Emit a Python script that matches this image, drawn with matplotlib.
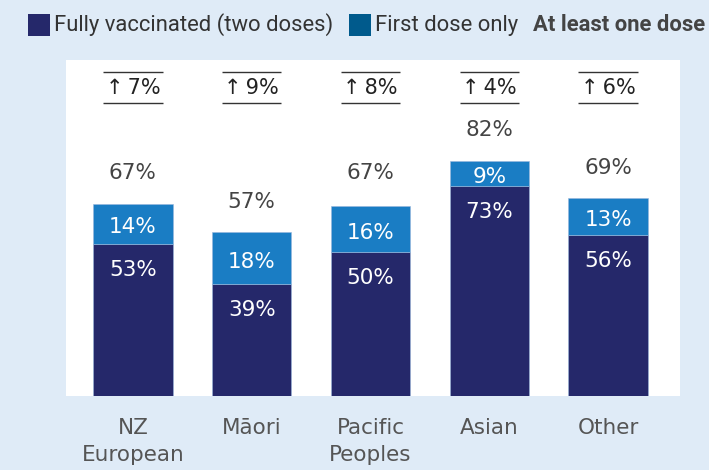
import matplotlib
matplotlib.use("Agg")
import matplotlib.pyplot as plt
from matplotlib.patches import Rectangle

categories = ["NZ\nEuropean", "Māori", "Pacific\nPeoples", "Asian", "Other"]
fully = [53, 39, 50, 73, 56]
first_only = [14, 18, 16, 9, 13]
at_least_one = [67, 57, 67, 82, 69]
increase = ["7%", "9%", "8%", "4%", "6%"]

BG = "#dfebf7"
NAVY = "#25286a"
BLUE = "#1a7dc4"
LEG_BLUE = "#005a8c"

fig = plt.figure(figsize=(7.09, 4.70), dpi=100)
fig.patch.set_facecolor(BG)
ax = fig.add_axes([66/709, 1-396/470, (680-66)/709, (396-60)/470])
ax.set_facecolor("white")

x = list(range(len(categories)))
w = 0.67
ax.bar(x, fully, width=w, color=NAVY, edgecolor="#9ab7dc", linewidth=0.4)
ax.bar(x, first_only, bottom=fully, width=w, color=BLUE, edgecolor="#9ab7dc", linewidth=0.4)

lab_font = dict(family="DejaVu Sans", fontsize=15.5)
for i in x:
    ax.text(i, fully[i] - 9, f"{fully[i]}%", ha="center", va="center", color="white", **lab_font)
    ax.text(i, fully[i] + first_only[i] / 2 - 1.3, f"{first_only[i]}%", ha="center", va="center",
            color="white", **lab_font)
    ax.text(i, at_least_one[i] + 10.5, f"{at_least_one[i]}%", ha="center", va="center",
            color="#444444", **lab_font)
    ax.text(i, 107.2, "↑" + "\u2009" + increase[i], ha="center", va="center", color="#222222",
            family="DejaVu Sans", fontsize=15)
    ax.plot([i - 0.25, i + 0.25], [112.7, 112.7], color="#333333", lw=1, solid_capstyle="butt")
    ax.plot([i - 0.25, i + 0.25], [101.9, 101.9], color="#333333", lw=1, solid_capstyle="butt")

ax.set_xlim(-0.563, 4.605)
ax.set_ylim(0, 117)
ax.set_xticks(x)
ax.set_xticklabels(categories, family="DejaVu Sans", fontsize=15.5, color="#555555",
                   linespacing=1.45)
ax.tick_params(axis="x", length=0, pad=16)
ax.set_yticks([])
for s in ax.spines.values():
    s.set_visible(False)

# legend
leg_font = ["Roboto", "DejaVu Sans"]
fig.patches.append(Rectangle((28/709, 1-36/470), 22/709, 22/470, transform=fig.transFigure,
                             facecolor=NAVY, edgecolor="none"))
fig.text(54/709, 1-25/470, "Fully vaccinated (two doses)", ha="left", va="center",
         family=leg_font, fontsize=15.8, color="#333333")
fig.patches.append(Rectangle((349/709, 1-36/470), 22/709, 22/470, transform=fig.transFigure,
                             facecolor=LEG_BLUE, edgecolor="none"))
fig.text(375/709, 1-25/470, "First dose only", ha="left", va="center",
         family=leg_font, fontsize=15.8, color="#333333")
fig.text(533/709, 1-25/470, "At least one dose", ha="left", va="center",
         family=leg_font, fontsize=15.8, fontweight="bold", color="#444444")

fig.savefig("out.png", dpi=100, facecolor=BG)
